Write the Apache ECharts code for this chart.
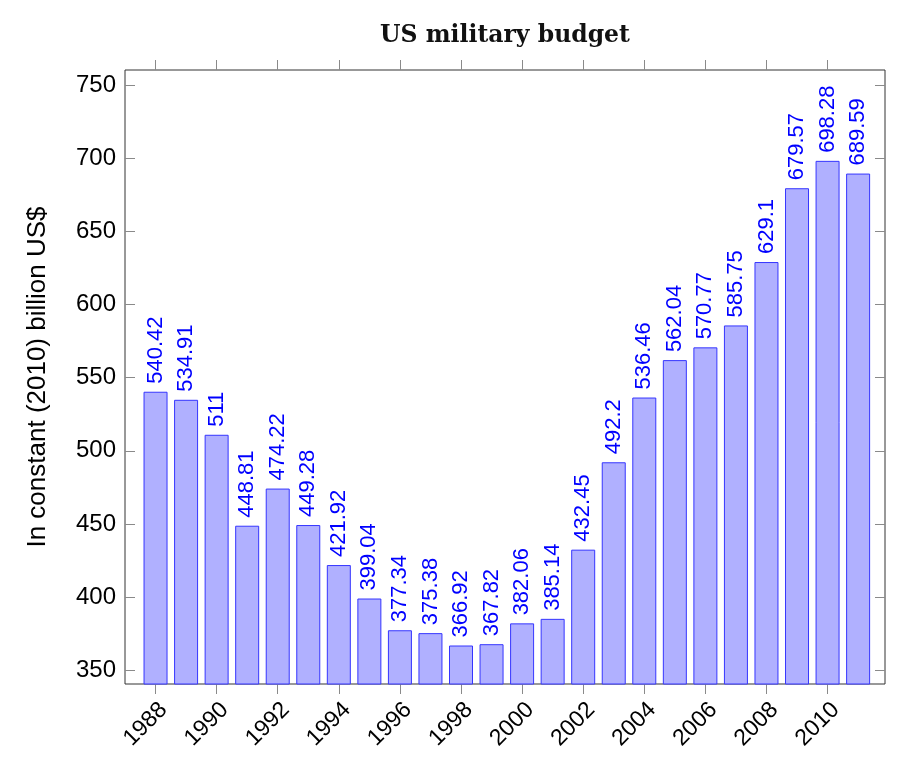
<!DOCTYPE html>
<html>
<head>
<meta charset="utf-8">
<script src="https://cdn.jsdelivr.net/npm/echarts@6/dist/echarts.min.js"></script>
<style>
  html, body { margin: 0; padding: 0; background: #ffffff; }
  #chart { width: 900px; height: 780px; }
</style>
</head>
<body>
<div id="chart"></div>
<script>
const years = [1988, 1989, 1990, 1991, 1992, 1993, 1994, 1995, 1996, 1997, 1998, 1999,
               2000, 2001, 2002, 2003, 2004, 2005, 2006, 2007, 2008, 2009, 2010, 2011];
const budget = [540.42, 534.91, 511, 448.81, 474.22, 449.28, 421.92, 399.04, 377.34, 375.38, 366.92, 367.82,
                382.06, 385.14, 432.45, 492.2, 536.46, 562.04, 570.77, 585.75, 629.1, 679.57, 698.28, 689.59];
const xTickLabels = [1988, 1990, 1992, 1994, 1996, 1998, 2000, 2002, 2004, 2006, 2008, 2010];
const yTickLabels = [350, 400, 450, 500, 550, 600, 650, 700, 750];

const chart = echarts.init(document.getElementById('chart'), null, { renderer: 'canvas' });
const sans = 'Liberation Sans, Arial, sans-serif';
const tickStyle = { color: '#8a8a8a', width: 1 };
const X_MIN = 1987.0, X_MAX = 2011.88, Y_MIN = 340.6, Y_MAX = 760.4;

chart.setOption({
  backgroundColor: '#ffffff',
  animation: false,
  title: {
    text: 'US military budget',
    left: 500,
    top: 19,
    textAlign: 'center',
    textStyle: { fontFamily: 'DejaVu Serif', fontWeight: 'bold', fontSize: 23.5, color: '#111' }
  },
  grid: {
    left: 125, right: 15, top: 70, bottom: 96,
    show: true, borderColor: '#333', borderWidth: 1, backgroundColor: 'transparent'
  },
  xAxis: [{
    type: 'value', min: X_MIN, max: X_MAX, position: 'bottom',
    axisLine: { show: false },
    splitLine: { show: false },
    axisTick: { show: true, inside: false, length: 10, customValues: xTickLabels, lineStyle: tickStyle },
    axisLabel: { customValues: xTickLabels, rotate: 45, fontSize: 23, fontFamily: sans, color: '#000', margin: 14,
                 verticalAlign: 'top', formatter: v => String(v) }
  }, {
    type: 'value', min: X_MIN, max: X_MAX, position: 'top',
    axisLine: { show: false },
    splitLine: { show: false },
    axisTick: { show: true, inside: false, length: 10, customValues: xTickLabels, lineStyle: tickStyle },
    axisLabel: { show: false }
  }],
  yAxis: [{
    type: 'value', min: Y_MIN, max: Y_MAX, position: 'left',
    name: 'In constant (2010) billion US$',
    nameLocation: 'middle', nameGap: 74,
    nameTextStyle: { fontSize: 26, fontFamily: sans, color: '#000' },
    axisLine: { show: false },
    splitLine: { show: false },
    axisTick: { show: true, inside: true, length: 10, customValues: yTickLabels, lineStyle: tickStyle },
    axisLabel: { customValues: yTickLabels, fontSize: 24, fontFamily: sans, color: '#000', margin: 9 }
  }, {
    type: 'value', min: Y_MIN, max: Y_MAX, position: 'right',
    axisLine: { show: false },
    splitLine: { show: false },
    axisTick: { show: true, inside: true, length: 10, customValues: yTickLabels, lineStyle: tickStyle },
    axisLabel: { show: false }
  }],
  series: [{
    type: 'bar',
    xAxisIndex: 0, yAxisIndex: 0,
    barWidth: 24,
    data: years.map((y, i) => [y, budget[i]]),
    itemStyle: { color: '#b0b0ff', borderColor: '#3535ff', borderWidth: 1 },
    label: {
      show: true, position: 'top', rotate: 90, align: 'left', verticalAlign: 'middle',
      distance: 8, fontSize: 22, fontFamily: sans, color: '#0000ff',
      formatter: p => String(p.value[1])
    }
  }]
});
</script>
</body>
</html>
